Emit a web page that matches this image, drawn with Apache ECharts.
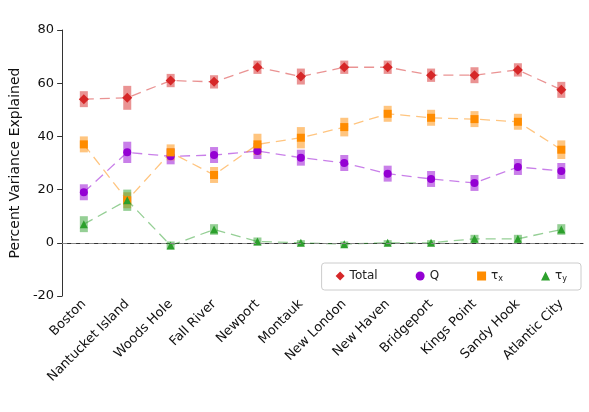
<!DOCTYPE html><html><head><meta charset="utf-8">
<script src="https://cdn.jsdelivr.net/npm/echarts@6/dist/echarts.min.js"></script>
<style>html,body{margin:0;background:#fff}#c{width:589px;height:412px}</style></head><body><div id="c"></div>
<script>
const categories=['Boston','Nantucket Island','Woods Hole','Fall River','Newport','Montauk','New London','New Haven','Bridgeport','Kings Point','Sandy Hook','Atlantic City'];
const total=[54,54.5,61,60.5,66,62.5,66,66,63,63,65,57.5];
const totalErr=[3,4.5,2.5,2.5,2.5,3,2.5,2.5,2.5,3,2.5,3];
const q=[19,34,32.5,33,34.5,32,30,26,24,22.5,28.5,27];
const qErr=[3,4,3,3,3,3,3,3,3,3,3,3];
const tx=[37,16,34,25.5,37,39.5,43.5,48.5,47,46.5,45.5,35];
const txErr=[3,3,3,3,4,4,3.5,3,3,3,3,3.5];
const ty=[7,16,-1,5,0.5,0,-0.5,0,0,1.5,1.5,5];
const tyErr=[3,4,1.5,2,1.5,1,1,1,1,1.5,1.5,2];
const yTicks=[-20,0,20,40,60,80];
const defs=[
 {name:'Total',v:total,e:totalErr,c:'#d62728',sym:'diamond',sz:10},
 {name:'Q',v:q,e:qErr,c:'#9400d3',sym:'circle',sz:8},
 {name:'tx',v:tx,e:txErr,c:'#ff8c00',sym:'rect',sz:8},
 {name:'ty',v:ty,e:tyErr,c:'#2ca02c',sym:'triangle',sz:8}];
const series=[];
defs.forEach(d=>{
 series.push({type:'custom',name:d.name+'_err',silent:true,z:1,
  data:d.v.map((v,i)=>[i,v-d.e[i],v+d.e[i]]),
  renderItem:(p,api)=>{const a=api.coord([api.value(0),api.value(1)]),b=api.coord([api.value(0),api.value(2)]);
   return {type:'rect',shape:{x:a[0]-4,y:b[1],width:8,height:a[1]-b[1]},style:{fill:d.c,opacity:0.5}};}});
 series.push({type:'line',name:d.name,data:d.v,symbol:d.sym,symbolSize:d.sz,z:3,
  itemStyle:{color:d.c},lineStyle:{color:d.c,type:[10,6],width:1.3,opacity:0.5}});
});
series[1].markLine={silent:true,symbol:'none',label:{show:false},lineStyle:{color:'#888',type:[5,4],width:1},data:[{yAxis:0}]};
const chart=echarts.init(document.getElementById('c'));
chart.setOption({animation:false,
 grid:{left:60,right:6,top:30,bottom:116},
 legend:{data:defs.map(d=>({name:d.name,icon:d.sym,itemStyle:{color:d.c}})),right:8,bottom:122,padding:[7,14],itemGap:38,itemWidth:9,itemHeight:9,
  borderColor:'#ccc',borderWidth:1,borderRadius:3,backgroundColor:'#fff',
  formatter:n=>n==='tx'?'τ{s|x}':n==='ty'?'τ{s|y}':n,
  textStyle:{fontSize:12,color:'#222',fontFamily:'DejaVu Sans',rich:{s:{fontSize:8,verticalAlign:'bottom',padding:[6,0,0,0]}}}},
 xAxis:{type:'category',data:categories,boundaryGap:true,
  axisLine:{lineStyle:{color:'#333'}},axisTick:{alignWithLabel:true,lineStyle:{color:'#333'}},
  axisLabel:{rotate:45,interval:0,fontSize:13,color:'#111',fontFamily:'DejaVu Sans',margin:6}},
 yAxis:{type:'value',min:-20,max:80,interval:20,name:'Percent Variance Explained',nameLocation:'middle',nameGap:32,
  nameTextStyle:{fontSize:14,color:'#111',fontFamily:'DejaVu Sans'},
  axisLine:{show:true,lineStyle:{color:'#333'}},axisTick:{show:true,lineStyle:{color:'#333'}},splitLine:{show:false},
  axisLabel:{fontSize:13,color:'#111',fontFamily:'DejaVu Sans',formatter:v=>yTicks.includes(v)?String(v):''}},
 series});
</script></body></html>
